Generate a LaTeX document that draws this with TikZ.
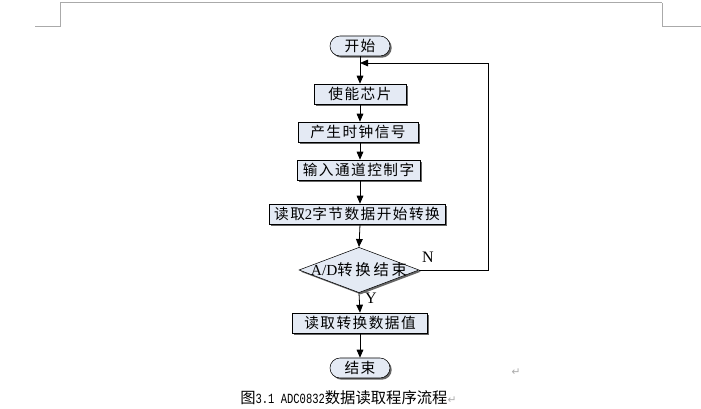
\documentclass[tikz,border=0pt]{standalone}
\usepackage{fontspec}
\setmainfont{Liberation Serif}
\newfontfamily\cjk[LetterSpace=10]{Noto Sans CJK SC}
\newfontfamily\cjkwide[LetterSpace=18]{Noto Sans CJK SC}
\newfontfamily\cjkcap{Noto Sans CJK SC}
\newfontfamily\lat{Liberation Serif}
\newfontfamily\mono[FakeStretch=0.75]{Liberation Mono}
\newfontfamily\sym{DejaVu Sans}
\usepackage{xcolor}
\usepackage{tikz}
\usetikzlibrary{arrows.meta,shapes.geometric,shadows}

\definecolor{boxfill}{RGB}{228,234,244}
\definecolor{markgray}{RGB}{170,170,170}

\begin{document}
\begin{tikzpicture}[x=0.75pt, y=-0.75pt,
        boxshadow/.style={drop shadow={shadow xshift=1.3pt, shadow yshift=-1.3pt, fill=black!60, opacity=1}},
        terminal/.style={draw, rounded corners=7.5pt, fill=boxfill, boxshadow, minimum width=45pt, minimum height=15pt, inner sep=1pt, font=\fontsize{11}{12}\cjk},
        process/.style={draw, fill=boxfill, boxshadow, minimum height=15pt, inner sep=1pt, font=\fontsize{11}{12}\cjk},
        decision/.style={draw, diamond, fill=boxfill, boxshadow, minimum width=90pt, minimum height=34pt, inner sep=0pt},
        lbl/.style={inner sep=0pt, font=\fontsize{12}{12}\lat},
        flow/.style={-{Triangle[length=6pt, width=5pt]}, line width=0.6pt},
        pagemark/.style={markgray, line width=0.75pt}
    ]
        \useasboundingbox (0,0) rectangle (701,409);

        % page corner marks
        \draw[pagemark] (60,3) -- (662,3);
        \draw[pagemark] (35,27) -- (60,27) -- (60,3);
        \draw[pagemark] (701,27) -- (662,27) -- (662,3);

        \node[terminal] (start) at (360,46) {开始};
        \node[process, minimum width=69pt] (enable) at (360,94) {使能芯片};
        \node[process, minimum width=90pt] (clock) at (358,132) {产生时钟信号};
        \node[process, minimum width=92pt] (channel) at (358.5,170) {输入通道控制字};
        \node[process, minimum width=132pt] (readstart) at (357,214) {读取{\lat 2}字节数据开始转换};
        \node[decision, label={[font=\fontsize{11.5}{12}\cjkwide]center:{\lat A/D}转换结束}] (done) at (359,270) {};
        \node[process, minimum width=101pt] (readval) at (360,323) {读取转换数据值};
        \node[terminal] (finish) at (360,368) {结束};

        \coordinate (loopin) at (360,63);

        \draw[flow] (start.south) -- (enable.north);
        \draw[flow] (enable.south) -- (clock.north -| enable.south);
        \draw[flow] (clock.south -| enable.south) -- (channel.north -| enable.south);
        \draw[flow] (channel.south -| enable.south) -- (readstart.north -| enable.south);
        \draw[flow] (readstart.south -| enable.south) -- (done.north);
        \draw[flow] (done.south) -- (readval.north);
        \draw[flow] (readval.south) -- (finish.north);
        \draw[flow] (done.east) -- ++(69,0) |- (loopin);

        \node[lbl] (nlab) at (428,257) {N};
        \node[lbl] (ylab) at (371,298) {Y};

        % caption and paragraph marks
        \node[anchor=west, inner sep=0pt] (caption) at (240,398)
            {\fontsize{11.5}{12}\cjkcap 图{\fontsize{10.5}{10}\mono 3.1 ADC0832}数据读取程序流程{\color{markgray}\fontsize{8}{10}\sym ↵}};
        \node[inner sep=0pt, text=markgray, font=\fontsize{8}{10}\sym] (parmark) at (516,372) {↵};
    \end{tikzpicture}
\end{document}
